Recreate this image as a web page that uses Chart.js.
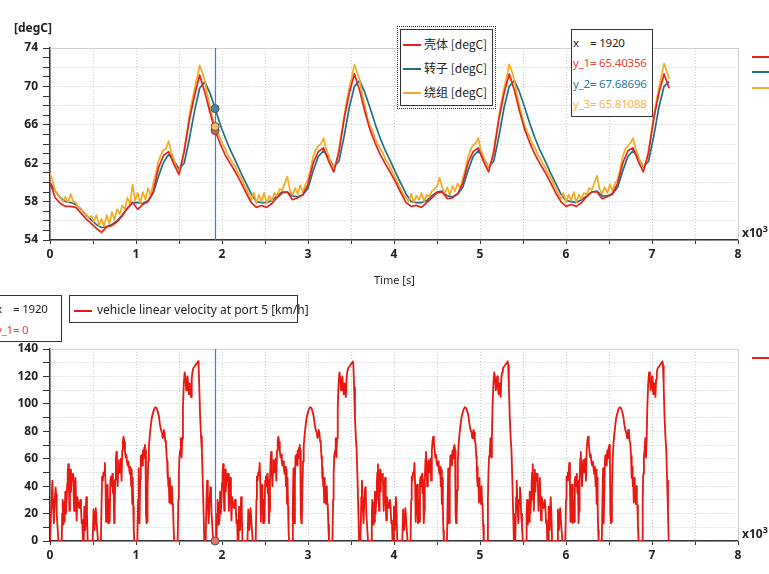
<!DOCTYPE html>
<html>
<head>
<meta charset="utf-8">
<title>Motor temperatures / vehicle speed</title>
<script src="https://cdn.jsdelivr.net/npm/chart.js"></script>
<style>
  html, body { margin: 0; padding: 0; background: #fff; }
  body { position: relative; width: 769px; height: 574px; overflow: hidden; font-family: "Noto Sans", "Open Sans", sans-serif; color: #222; }
  canvas { position: absolute; left: 0; }
  #tempChart { top: 0; }
  #speedChart { top: 290px; }
  .lbl { position: absolute; white-space: pre; font-size: 12px; line-height: 14px; }
  .b { font-weight: bold; }
  .box { position: absolute; background: #fff; border: 1px solid #333; }
  .swatch { position: absolute; height: 2px; }
  .readout .lbl { font-size: 11.5px; letter-spacing: -0.2px; }
  sup { font-size: 9px; vertical-align: top; position: relative; top: -4px; }
</style>
</head>
<body>
<canvas id="tempChart" width="769" height="290"></canvas>
<canvas id="speedChart" width="769" height="284"></canvas>

<div class="lbl b" style="left:14px;top:21px;">[degC]</div>
<div class="lbl" style="left:374px;top:273px;font-size:11px;">Time [s]</div>
<div class="lbl b" style="left:742px;top:226px;">x10<sup>3</sup></div>
<div class="lbl b" style="left:742px;top:527px;">x10<sup>3</sup></div>

<!-- legend lines of the neighbouring (clipped) plots -->
<div class="swatch" style="left:752px;top:56px;width:20px;background:#e3241e"></div>
<div class="swatch" style="left:752px;top:71px;width:20px;background:#1f6f8b"></div>
<div class="swatch" style="left:752px;top:87px;width:20px;background:#f5aa22"></div>
<div class="swatch" style="left:752px;top:357px;width:20px;background:#e3241e"></div>

<div class="box" style="left:397px;top:26px;width:97px;height:81px;border:1px dotted #333;background:transparent"></div>
<div class="box" id="tempLegend" style="left:400px;top:29px;width:91px;height:75px;"></div>
<div class="box readout" id="tempReadout" style="left:571px;top:29px;width:80px;height:86px;"></div>
<div class="box" id="speedLegend" style="left:69px;top:295px;width:227px;height:26px;"></div>
<div class="box readout" id="speedReadout" style="left:-8px;top:295px;width:68px;height:45px;"></div>

<script>
// temperatures, sampled every 60 s (shell, rotor) and 30 s (winding), t = 0 .. 7200 s
const tempStep = 60;
const windingStep = 30;
const seriesNames = ['壳体 [degC]', '转子 [degC]', '绕组 [degC]'];
const seriesColors = ['#e3241e', '#1f6f8b', '#f5aa22'];
const readoutColors = ['#e8403a', '#2b7c9c', '#f4b24e'];

const shellTemp = [
  60.0, 58.4, 57.8, 57.5, 57.5, 57.4, 56.8, 56.2, 55.7, 55.2, 54.8, 55.4, 55.5, 55.9, 56.5,
  57.3, 57.9, 57.2, 57.7, 58.0, 59.0, 61.5, 62.8, 63.2, 61.9, 60.8, 63.2, 66.5, 69.0, 71.2,
  69.4, 67.3, 65.4, 64.0, 62.8, 61.9, 61.0, 60.0, 58.9, 57.9, 57.4, 57.6, 57.4, 57.8, 58.4,
  58.9, 59.0, 58.2, 58.4, 58.7, 59.8, 62.0, 63.2, 63.6, 62.2, 61.1, 63.2, 66.6, 69.3, 71.3,
  69.6, 67.4, 65.5, 64.1, 62.9, 61.9, 61.0, 60.0, 58.9, 57.9, 57.5, 57.6, 57.4, 57.9, 58.4,
  58.9, 59.0, 58.3, 58.4, 58.8, 59.9, 62.0, 63.2, 63.6, 62.2, 61.1, 63.1, 66.6, 69.3, 71.3,
  69.6, 67.4, 65.5, 64.1, 62.9, 61.9, 61.0, 60.0, 58.9, 58.0, 57.5, 57.7, 57.5, 57.9, 58.5,
  59.0, 59.0, 58.3, 58.5, 58.8, 59.9, 62.0, 63.3, 63.6, 62.2, 61.1, 63.1, 66.6, 69.3, 71.3,
  69.8
];

const rotorTemp = [
  60.0, 59.1, 58.4, 58.0, 57.9, 57.7, 57.2, 56.6, 56.1, 55.6, 55.3, 55.4, 55.6, 56.0, 56.6,
  57.3, 57.9, 57.9, 57.8, 58.1, 58.9, 60.6, 62.1, 62.9, 62.3, 61.4, 62.0, 64.5, 67.4, 69.8,
  70.5, 69.3, 67.7, 66.0, 64.6, 63.3, 62.2, 61.0, 59.9, 58.8, 58.0, 57.9, 57.9, 58.1, 58.6,
  59.0, 59.0, 58.6, 58.5, 58.7, 59.4, 61.2, 62.7, 63.3, 62.6, 61.6, 62.2, 64.8, 67.8, 70.0,
  70.6, 69.4, 67.8, 66.1, 64.6, 63.3, 62.2, 61.0, 59.9, 58.8, 58.0, 57.9, 57.9, 58.1, 58.6,
  59.0, 59.1, 58.6, 58.5, 58.8, 59.5, 61.2, 62.7, 63.3, 62.6, 61.6, 62.2, 64.8, 67.8, 70.0,
  70.6, 69.4, 67.8, 66.1, 64.6, 63.3, 62.2, 61.0, 59.9, 58.8, 58.1, 58.0, 57.9, 58.2, 58.6,
  59.0, 59.1, 58.6, 58.6, 58.8, 59.5, 61.2, 62.7, 63.3, 62.6, 61.6, 62.2, 64.8, 67.8, 70.0,
  70.5
];

const windingTemp = [
  60.9, 60.2, 59.1, 58.7, 58.4, 58.0, 58.5, 57.9, 58.8, 58.0, 57.9, 57.4, 57.3, 56.8, 56.7,
  56.3, 56.5, 55.9, 56.6, 55.5, 56.2, 55.4, 56.6, 55.7, 56.9, 56.1, 57.2, 56.7, 57.6, 57.2,
  58.4, 57.7, 59.8, 58.1, 58.9, 57.8, 59.0, 58.2, 59.4, 58.6, 59.9, 60.9, 62.2, 62.9, 63.4,
  63.5, 64.3, 63.1, 62.4, 61.5, 61.2, 62.0, 63.4, 65.1, 66.9, 68.4, 69.7, 70.9, 72.2, 71.5,
  70.6, 69.1, 67.9, 66.7, 65.8, 65.2, 64.6, 63.9, 63.5, 62.8, 62.4, 61.9, 61.6, 60.9, 60.5,
  59.9, 59.4, 58.8, 58.2, 58.9, 57.8, 58.7, 58.0, 58.9, 57.8, 58.6, 58.1, 58.9, 58.6, 59.3,
  59.2, 59.9, 60.6, 59.2, 58.7, 59.4, 58.8, 59.7, 59.0, 59.8, 60.3, 61.4, 62.7, 63.4, 63.8,
  64.0, 64.6, 63.5, 62.8, 61.9, 61.6, 62.1, 63.4, 65.1, 66.9, 68.5, 69.8, 71.0, 72.3, 71.5,
  70.7, 69.2, 68.0, 66.8, 65.9, 65.4, 64.6, 64.0, 63.5, 63.1, 62.4, 62.0, 61.5, 60.9, 60.4,
  59.8, 59.3, 58.7, 58.4, 58.0, 58.8, 57.9, 58.6, 58.2, 58.9, 58.0, 58.7, 58.5, 59.1, 59.3,
  59.6, 60.5, 59.5, 58.8, 59.5, 58.7, 59.6, 59.1, 59.9, 59.4, 60.4, 61.4, 62.6, 63.4, 63.9,
  64.1, 64.6, 63.4, 62.7, 62.0, 61.6, 62.1, 63.5, 65.1, 66.9, 68.5, 69.8, 71.0, 72.3, 71.6,
  70.6, 69.1, 67.9, 66.8, 65.9, 65.2, 64.7, 64.0, 63.6, 62.9, 62.5, 62.0, 61.5, 61.0, 60.5,
  60.0, 59.4, 58.8, 58.3, 58.9, 57.9, 58.7, 58.1, 59.0, 57.9, 58.7, 58.3, 58.9, 58.7, 59.4,
  59.2, 60.0, 60.7, 59.3, 58.8, 59.5, 58.9, 59.8, 59.1, 59.9, 60.3, 61.4, 62.7, 63.5, 63.8,
  64.1, 64.6, 63.5, 62.8, 62.0, 61.7, 62.1, 63.4, 65.1, 66.9, 68.5, 69.8, 71.1, 72.4, 71.6,
  70.8
];

// one drive cycle (0..1800 s), run four times
const cycleStarts = [0, 1800, 3600, 5400];
const cycleTime = [
  0, 10, 20, 27, 35, 45, 55, 65, 72, 78, 88, 98, 136, 142, 148, 156, 164, 170, 178, 186,
  194, 200, 206, 213, 220, 226, 232, 238, 244, 252, 262, 270, 280, 288, 296, 304, 310, 318, 328, 340,
  352, 360, 368, 376, 382, 392, 399, 410, 422, 430, 438, 496, 506, 518, 532, 546, 558, 592,
  600, 606, 614, 622, 630, 638, 646, 652, 658, 664, 670, 678, 686, 694, 702, 710, 718, 726, 732, 738,
  746, 752, 758, 766, 772, 778, 786, 794, 800, 808, 816, 824, 832, 840, 848, 856, 864, 872, 880, 888,
  896, 904, 912, 920, 928, 936, 944, 950, 956, 962, 968, 974, 980, 1016,
  1024, 1031, 1036, 1041, 1048, 1055, 1062, 1068, 1074, 1080, 1088, 1096, 1104, 1110, 1116, 1122, 1128, 1134, 1142, 1150,
  1160, 1172, 1184, 1196, 1210, 1224, 1240, 1254, 1266, 1278, 1290, 1302, 1310, 1318, 1324, 1332, 1340, 1348, 1356, 1362,
  1366, 1370, 1376, 1382, 1388, 1394, 1400, 1406, 1412, 1418, 1424, 1430, 1436, 1444, 1484,
  1492, 1498, 1506, 1514, 1522, 1530, 1538, 1546, 1556, 1566, 1576, 1584, 1592, 1600, 1608, 1616, 1624, 1632, 1640, 1648,
  1656, 1666, 1678, 1690, 1700, 1712, 1722, 1728, 1736, 1746, 1756, 1766, 1776, 1786, 1794, 1800
];
const cycleSpeed = [
  0, 0, 32, 44, 28, 13, 30, 39, 34, 20, 10, 0, 0, 20, 30, 12, 28, 14, 36, 20,
  30, 42, 50, 56, 38, 22, 40, 52, 36, 49, 44, 49, 22, 38, 46, 28, 15, 32, 27, 24,
  30, 25, 13, 15, 0, 0, 25, 8, 32, 20, 0, 0, 23, 8, 24, 10, 0, 0,
  30, 47, 44, 50, 48, 57, 40, 14, 40, 20, 41, 13, 30, 14, 44, 47, 40, 49, 35, 44,
  13, 22, 45, 60, 65, 52, 40, 52, 59, 50, 52, 60, 44, 66, 73, 76, 72, 66, 61, 63,
  57, 55, 58, 53, 49, 54, 40, 52, 27, 46, 25, 8, 0, 0,
  30, 53, 25, 13, 45, 62, 58, 63, 55, 66, 60, 68, 70, 66, 20, 13, 14, 37, 58, 69,
  77, 84, 90, 93, 96, 97.5, 97, 94, 91, 85, 81, 79, 75, 77, 81, 79, 73, 71, 62, 58,
  46, 54, 40, 42, 28, 46, 30, 38, 27, 40, 27, 26, 12, 0, 0,
  30, 49, 62, 66, 75, 61, 75, 98, 115, 123, 118, 110, 115, 120, 112, 107, 115, 110, 105, 118,
  123, 126, 127, 128, 129, 130, 131, 128, 112, 90, 76, 66, 44, 20, 0, 0
];
const speedName = 'vehicle linear velocity at port 5 [km/h]';
const speedColor = '#e8170f';

// cursor readout
const cursorTime = 1920;
const cursorTemps = [65.40356, 67.68696, 65.81088];
const cursorSpeed = 0;

function toPoints(values, step) {
  return values.map((v, i) => ({ x: i * step, y: v }));
}

const speedPoints = [];
cycleStarts.forEach(start => {
  cycleTime.forEach((t, i) => speedPoints.push({ x: start + t, y: cycleSpeed[i] }));
});

const tickFont = { family: 'Noto Sans', size: 12, weight: 'bold' };
const gridColor = '#c9c9c9';

function xAxis(height) {
  return {
    type: 'linear', min: 0, max: 8000,
    afterFit: s => { s.height = height; },
    ticks: {
      stepSize: 500, autoSkip: false, maxRotation: 0, padding: 3,
      color: '#222', font: tickFont,
      callback: v => (v % 1000 === 0 ? String(v / 1000) : '')
    },
    grid: { color: gridColor, tickColor: '#333', tickLength: 4, lineWidth: 1 },
    border: { color: '#333', width: 1.5, dash: [1, 2] }
  };
}

function yAxis(min, max, step, labelEvery, gridEvery) {
  return {
    type: 'linear', min, max,
    afterFit: s => { s.width = 50; },
    ticks: {
      stepSize: step, autoSkip: false, padding: 5, color: '#222', font: tickFont,
      callback: v => ((v - min) % labelEvery === 0 ? String(v) : '')
    },
    grid: {
      color: c => ((c.tick.value - min) % gridEvery === 0 ? gridColor : 'rgba(0,0,0,0)'),
      tickColor: '#333', tickLength: 7, lineWidth: 1
    },
    border: { color: '#333', width: 1.5, dash: [1, 2] }
  };
}

// light frame on top/right and the blue cursor line
const cursorPlugin = {
  id: 'cursor',
  beforeDatasetsDraw(chart) {
    const { ctx, chartArea: a, scales: { x } } = chart;
    ctx.save();
    ctx.setLineDash([]);
    ctx.lineWidth = 1;
    ctx.strokeStyle = '#cfcfcf';
    ctx.beginPath();
    ctx.moveTo(a.left, a.top + 0.5);
    ctx.lineTo(a.right + 0.5, a.top + 0.5);
    ctx.lineTo(a.right + 0.5, a.bottom);
    ctx.stroke();
    const px = Math.round(x.getPixelForValue(cursorTime)) + 0.5;
    ctx.strokeStyle = '#2a7fef';
    ctx.lineWidth = 1.2;
    ctx.beginPath();
    ctx.moveTo(px, a.top);
    ctx.lineTo(px, a.bottom);
    ctx.stroke();
    ctx.restore();
  }
};

function marker(y, fill) {
  return {
    data: [{ x: cursorTime, y }], showLine: false, clip: false,
    pointRadius: 4, pointBackgroundColor: fill, pointBorderColor: '#555', pointBorderWidth: 1
  };
}

const baseOptions = (padTop, xHeight, yCfg) => ({
  responsive: false,
  animation: false,
  layout: { padding: { top: padTop, right: 31, left: 0, bottom: 0 } },
  plugins: { legend: { display: false }, tooltip: { enabled: false } },
  elements: { point: { radius: 0 }, line: { tension: 0, borderJoinStyle: 'round' } },
  scales: { x: xAxis(xHeight), y: yCfg }
});

new Chart(document.getElementById('tempChart'), {
  type: 'line',
  data: {
    datasets: [
      marker(cursorTemps[1], '#3f8aa8'),
      marker(cursorTemps[2], '#f2c063'),
      marker(cursorTemps[0], '#e9584f'),
      { label: seriesNames[0], data: toPoints(shellTemp, tempStep), borderColor: seriesColors[0], borderWidth: 1.7 },
      { label: seriesNames[2], data: toPoints(windingTemp, windingStep), borderColor: seriesColors[2], borderWidth: 1.7 },
      { label: seriesNames[1], data: toPoints(rotorTemp, tempStep), borderColor: seriesColors[1], borderWidth: 1.7 }
    ]
  },
  options: baseOptions(48, 50, yAxis(54, 74, 1, 4, 2)),
  plugins: [cursorPlugin]
});

new Chart(document.getElementById('speedChart'), {
  type: 'line',
  data: {
    datasets: [
      marker(cursorSpeed, '#e9706a'),
      { label: speedName, data: speedPoints, borderColor: speedColor, borderWidth: 1.8 }
    ]
  },
  options: baseOptions(59, 33, yAxis(0, 140, 10, 20, 10)),
  plugins: [cursorPlugin]
});

// legends and cursor readouts
function addRow(box, left, top, text, color) {
  const d = document.createElement('div');
  d.className = 'lbl';
  d.style.left = left + 'px';
  d.style.top = top + 'px';
  d.style.color = color;
  d.textContent = text;
  box.appendChild(d);
}
function addSwatch(box, left, top, color) {
  const s = document.createElement('div');
  s.className = 'swatch';
  s.style.cssText = `left:${left}px;top:${top}px;width:18px;background:${color}`;
  box.appendChild(s);
}

const tempLegend = document.getElementById('tempLegend');
seriesNames.forEach((name, i) => {
  addSwatch(tempLegend, 2, 14 + i * 24, seriesColors[i]);
  addRow(tempLegend, 23, 7 + i * 24, name, '#222');
  tempLegend.lastChild.style.fontFamily = '"Noto Sans CJK SC", "Noto Sans", sans-serif';
});

const tempReadout = document.getElementById('tempReadout');
addRow(tempReadout, 1, 6, 'x    = ' + cursorTime, '#222');
cursorTemps.forEach((v, i) => addRow(tempReadout, 1, 26 + i * 20.5, `y_${i + 1}= ${v.toFixed(5)}`, readoutColors[i]));

const speedLegend = document.getElementById('speedLegend');
addSwatch(speedLegend, 4, 14, speedColor);
addRow(speedLegend, 27, 7, speedName, '#222');

const speedReadout = document.getElementById('speedReadout');
addRow(speedReadout, 3, 6, 'x    = ' + cursorTime, '#222');
addRow(speedReadout, 3, 27, 'y_1= ' + cursorSpeed, readoutColors[0]);
</script>
</body>
</html>
